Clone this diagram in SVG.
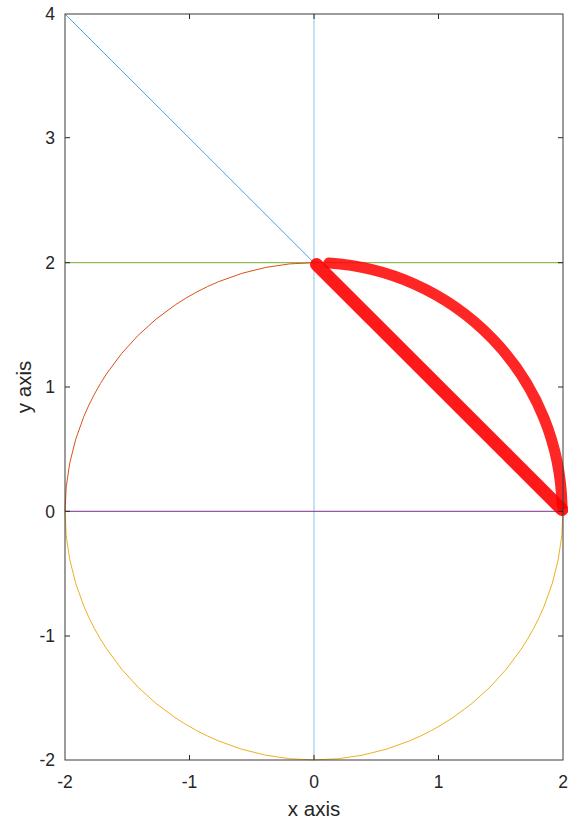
<svg xmlns="http://www.w3.org/2000/svg" width="568" height="822" viewBox="0 0 568 822">
<style>
.tick{stroke:#262626;stroke-width:1;fill:none}
.lbl{font-family:"Liberation Sans",Arial,sans-serif;font-size:17.5px;fill:#262626}
.ax{font-family:"Liberation Sans",Arial,sans-serif;font-size:20.5px;fill:#262626}
.c{fill:none;stroke-width:1}
</style>
<rect width="568" height="822" fill="#ffffff"/>
<g id="curves">
<line class="c" x1="314" y1="14" x2="314" y2="760" stroke="#8fc3e6"/>
<line class="c" x1="65" y1="14" x2="314" y2="262.7" stroke="#4aa3e0" stroke-width="1.2"/>
<line class="c" x1="65" y1="262.7" x2="563" y2="262.7" stroke="#77ac30"/>
<line class="c" x1="65" y1="511.3" x2="563" y2="511.3" stroke="#7e2f8e"/>
<path class="c" d="M 65 511.3 A 249 248.7 0 0 1 314 262.7" stroke="#d95319"/>
<path class="c" d="M 65 511.3 A 249 248.7 0 0 0 563 511.3" stroke="#edb120"/>
<path d="M 328.8 263.1 A 249 248.7 0 0 1 562 505" fill="none" stroke="#ff0000" stroke-opacity="0.85" stroke-width="11" stroke-linecap="round"/>
<path d="M 316.5 264.5 L 562 509.5" fill="none" stroke="#ff0000" stroke-opacity="0.9" stroke-width="13" stroke-linecap="round"/>
</g>
<g id="axes">
<rect x="65" y="14" width="498" height="746" fill="none" stroke="#3a3a3a" stroke-width="1"/>
<path class="tick" d="M65 137.7h5M65 262.7h5M65 387h5M65 511.3h5M65 636h5M563 137.7h-5M563 262.7h-5M563 387h-5M563 511.3h-5M563 636h-5M189.5 760v-5M314 760v-5M438.5 760v-5M189.5 14v5M314 14v5M438.5 14v5"/>
<g class="lbl" text-anchor="end">
<text x="55" y="20.3">4</text>
<text x="55" y="144">3</text>
<text x="55" y="269">2</text>
<text x="55" y="393.3">1</text>
<text x="55" y="517.6">0</text>
<text x="55" y="642.3">-1</text>
<text x="55" y="766.3">-2</text>
</g>
<g class="lbl" text-anchor="middle">
<text x="65" y="788">-2</text>
<text x="189.5" y="788">-1</text>
<text x="314" y="788">0</text>
<text x="438.5" y="788">1</text>
<text x="563" y="788">2</text>
</g>
<text class="ax" x="314" y="816" text-anchor="middle">x axis</text>
<text class="ax" transform="translate(31 387) rotate(-90)" text-anchor="middle">y axis</text>
</g>
</svg>
